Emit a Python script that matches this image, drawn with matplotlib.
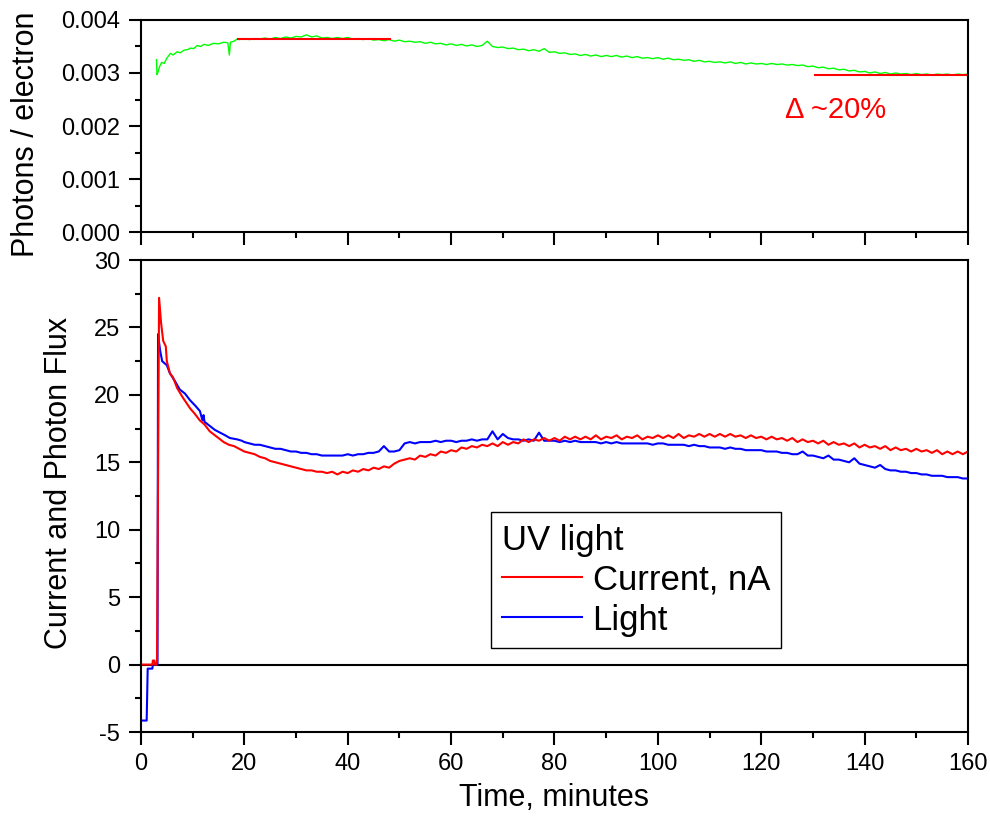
import matplotlib
matplotlib.use("Agg")
import matplotlib.pyplot as plt
from matplotlib.ticker import MultipleLocator

plt.rcParams["font.family"] = ["Liberation Sans", "DejaVu Sans"]
plt.rcParams["axes.unicode_minus"] = False

# photons per electron, in units of 1e-3
ratio_t = [3.0, 3.1, 3.3, 3.6, 4.0, 4.5, 5.0, 5.7, 6.2, 7.0, 7.6, 8.3, 9.0, 9.6,
           10.2, 10.9, 11.5, 12.2, 13, 14, 15, 16, 16.8, 17.1, 17.3, 18, 18.6] + list(range(19, 161))
ratio_e3 = [3.25, 2.97, 3.02, 3.12, 3.20, 3.18, 3.28, 3.37, 3.34, 3.40, 3.38, 3.43, 3.44, 3.47,
            3.46, 3.52, 3.50, 3.54, 3.52, 3.56, 3.55, 3.58, 3.57, 3.34, 3.58, 3.60, 3.64,
            3.63, 3.65, 3.63, 3.65, 3.64, 3.66, 3.64, 3.67, 3.65, 3.68, 3.66, 3.69, 3.68, 3.72,
            3.68, 3.70, 3.66, 3.67, 3.65, 3.67, 3.65, 3.67, 3.64, 3.65, 3.63, 3.65, 3.62, 3.63,
            3.61, 3.63, 3.60, 3.62, 3.59, 3.60, 3.58, 3.59, 3.56, 3.58, 3.55, 3.56, 3.53, 3.55,
            3.52, 3.54, 3.51, 3.53, 3.50, 3.52, 3.60, 3.50, 3.48, 3.49, 3.46, 3.47, 3.44, 3.45,
            3.42, 3.44, 3.41, 3.46, 3.39, 3.40, 3.37, 3.38, 3.35, 3.36, 3.33, 3.35, 3.32, 3.34,
            3.31, 3.33, 3.31, 3.33, 3.30, 3.32, 3.29, 3.31, 3.28, 3.29, 3.27, 3.29, 3.26, 3.28,
            3.25, 3.26, 3.24, 3.25, 3.22, 3.24, 3.21, 3.22, 3.20, 3.21, 3.19, 3.21, 3.18, 3.20,
            3.17, 3.19, 3.17, 3.18, 3.16, 3.18, 3.16, 3.17, 3.15, 3.16, 3.14, 3.15, 3.12, 3.13,
            3.10, 3.11, 3.08, 3.09, 3.06, 3.07, 3.04, 3.05, 3.02, 3.03, 3.00, 3.02, 2.99, 3.01,
            2.98, 3.00, 2.98, 2.99, 2.97, 2.99, 2.97, 2.98, 2.96, 2.98, 2.97, 2.98, 2.96, 2.98,
            2.97, 2.98]

# reference levels for the drop annotation
level_hi, level_hi_span = 3.65e-3, (18.8, 48.2)
level_lo, level_lo_span = 2.96e-3, (130.4, 160)

# current, nA
cur_t = [0, 2.2, 2.3, 2.6, 2.7, 3.0, 3.1, 3.5, 3.9, 4.3, 4.8, 5.0, 5.6, 6.2, 7.0, 8.1,
         9.5, 10.4, 11.4, 12.3, 13.3, 14.3, 15.3] + list(range(16, 161))
cur = [0, 0, 0.3, 0.3, 0, 0, 0.2, 27.2, 25.3, 24.0, 23.6, 22.5, 21.6, 21.3, 20.5, 19.8,
       19.0, 18.6, 18.1, 17.8, 17.3, 17.0, 16.7,
       16.5, 16.3, 16.2, 16.0, 15.8, 15.7, 15.6, 15.4, 15.3, 15.1, 15.0, 14.9, 14.8, 14.7,
       14.6, 14.5, 14.4, 14.4, 14.3, 14.3, 14.2, 14.3, 14.1, 14.3, 14.2, 14.4, 14.3, 14.5,
       14.4, 14.6, 14.5, 14.7, 14.6, 14.9, 15.1, 15.2, 15.3, 15.2, 15.5, 15.4, 15.6, 15.5,
       15.8, 15.7, 15.9, 15.8, 16.1, 16.0, 16.2, 16.1, 16.3, 16.2, 16.4, 16.2, 16.5, 16.3,
       16.5, 16.4, 16.7, 16.5, 16.7, 16.6, 16.8, 16.6, 16.8, 16.6, 16.9, 16.7, 16.9, 16.7,
       16.9, 16.7, 17.0, 16.7, 16.9, 16.8, 17.0, 16.7, 16.9, 16.8, 17.0, 16.7, 16.9, 16.8,
       17.0, 16.8, 17.0, 16.8, 17.1, 16.8, 17.0, 16.9, 17.1, 16.9, 17.1, 16.9, 17.1, 16.9,
       17.1, 16.9, 17.0, 16.8, 17.0, 16.8, 16.9, 16.7, 16.9, 16.7, 16.8, 16.6, 16.8, 16.5,
       16.7, 16.5, 16.6, 16.4, 16.6, 16.3, 16.5, 16.3, 16.4, 16.2, 16.4, 16.1, 16.3, 16.1,
       16.2, 16.0, 16.2, 15.9, 16.1, 15.9, 16.0, 15.8, 16.0, 15.8, 15.9, 15.7, 15.9, 15.6,
       15.8, 15.6, 15.8, 15.6, 15.8]

# light signal
light_t = [0, 1.1, 1.3, 2.2, 2.3, 3.2, 3.3, 3.7, 4.1, 5.0, 5.6, 6.6, 7.5, 8.5, 9.5, 10.5,
           11.4, 11.9, 12.1, 12.3, 13.3, 14.3, 15.3, 16.3, 17.2, 18.6, 19.5, 20] + list(range(21, 161))
light = [-4.15, -4.15, -0.3, -0.3, 0.0, 0.0, 24.5, 23.3, 22.5, 22.2, 21.6, 21.0, 20.4, 20.1,
         19.6, 19.2, 18.8, 18.1, 18.5, 18.0, 17.7, 17.4, 17.2, 17.0, 16.8, 16.7, 16.6, 16.5,
         16.4, 16.3, 16.3, 16.2, 16.1, 16.0, 16.0, 15.9, 15.8, 15.8, 15.7, 15.7, 15.6, 15.6,
         15.5, 15.5, 15.5, 15.5, 15.5, 15.6, 15.5, 15.6, 15.6, 15.7, 15.7, 15.8, 16.2, 15.8,
         15.8, 15.9, 16.4, 16.5, 16.4, 16.5, 16.5, 16.5, 16.6, 16.5, 16.6, 16.6, 16.5, 16.6,
         16.6, 16.7, 16.6, 16.7, 16.7, 17.3, 16.7, 17.1, 16.8, 16.7, 16.7, 16.6, 16.7, 16.6,
         17.2, 16.6, 16.6, 16.6, 16.5, 16.6, 16.5, 16.6, 16.5, 16.5, 16.5, 16.5, 16.4, 16.5,
         16.4, 16.5, 16.4, 16.4, 16.4, 16.4, 16.4, 16.4, 16.3, 16.4, 16.4, 16.3, 16.3, 16.3,
         16.3, 16.2, 16.3, 16.2, 16.2, 16.1, 16.1, 16.1, 16.0, 16.1, 16.0, 16.0, 15.9, 15.9,
         15.9, 15.9, 15.8, 15.8, 15.8, 15.7, 15.7, 15.6, 15.6, 15.8, 15.5, 15.5, 15.4, 15.3,
         15.5, 15.2, 15.2, 15.1, 15.0, 15.3, 14.9, 14.8, 14.7, 14.6, 14.8, 14.5, 14.4, 14.4,
         14.3, 14.3, 14.2, 14.2, 14.1, 14.1, 14.0, 14.0, 14.0, 13.9, 13.9, 13.9, 13.8, 13.8]

fig = plt.figure(figsize=(9.9, 8.26), dpi=100)
ax_top = fig.add_axes([0.1424, 0.7191, 0.8354, 0.2567])
ax = fig.add_axes([0.1424, 0.1138, 0.8354, 0.5714])

for a in (ax_top, ax):
    for s in a.spines.values():
        s.set_linewidth(1.5)
    a.tick_params(which="both", direction="out", width=1.5, labelsize=17,
                  top=False, right=False, pad=6)
    a.tick_params(which="major", length=9)
    a.tick_params(which="minor", length=4.5)
    a.set_xlim(0, 160)
    a.xaxis.set_major_locator(MultipleLocator(20))
    a.xaxis.set_minor_locator(MultipleLocator(10))

# top panel: photons per electron
ax_top.plot(ratio_t, [v * 1e-3 for v in ratio_e3], color="#00ff00", lw=1)
ax_top.plot(level_hi_span, [level_hi, level_hi], color="red", lw=1.5)
ax_top.plot(level_lo_span, [level_lo, level_lo], color="red", lw=1.5)
ax_top.text(124.6, 0.0023, "Δ ~20%", color="red", fontsize=21, ha="left", va="center")
ax_top.set_ylim(0, 0.004)
ax_top.yaxis.set_major_locator(MultipleLocator(0.001))
ax_top.yaxis.set_minor_locator(MultipleLocator(0.0005))
ax_top.yaxis.set_major_formatter(lambda v, p: f"{v:.3f}")
ax_top.tick_params(labelbottom=False)
ax_top.set_ylabel("Photons / electron", fontsize=22)
ax_top.yaxis.set_label_coords(-0.121, 0.46)

# bottom panel: current and light
ax.axhline(0, color="black", lw=1.5)
ax.plot(light_t, light, color="blue", lw=1.5, label="Light")
ax.plot(cur_t, cur, color="red", lw=1.5, label="Current, nA")
ax.set_ylim(-5, 30)
ax.yaxis.set_major_locator(MultipleLocator(5))
ax.yaxis.set_minor_locator(MultipleLocator(2.5))
ax.set_xlabel("Time, minutes", fontsize=22, labelpad=6)
ax.set_ylabel("Current and Photon Flux", fontsize=22)
ax.yaxis.set_label_coords(-0.081, 0.527)

h, l = ax.get_legend_handles_labels()
leg = ax.legend(h[::-1], l[::-1], title="UV light", loc="lower left",
                bbox_to_anchor=(0.423, 0.178), borderaxespad=0, fontsize=25,
                title_fontsize=25, alignment="left", fancybox=False, framealpha=1,
                edgecolor="black", handlelength=2.3, handletextpad=0.3,
                labelspacing=0.2, borderpad=0.33)
leg.get_frame().set_linewidth(1)

fig.savefig("out.png", dpi=100)
